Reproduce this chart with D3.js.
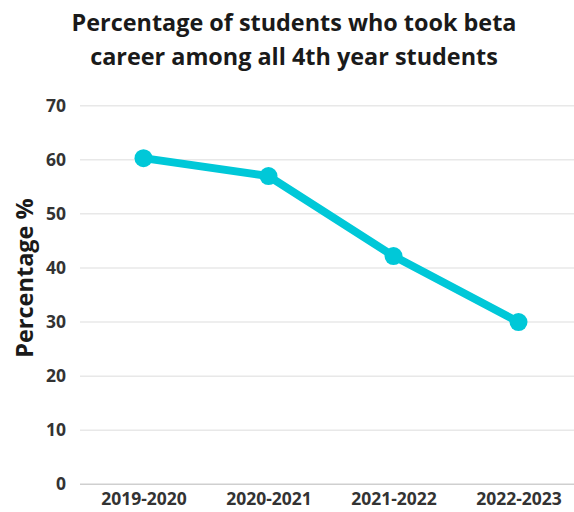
<!DOCTYPE html>
<html>
<head>
<meta charset="utf-8">
<script src="https://cdn.jsdelivr.net/npm/d3@7"></script>
<style>
  html, body { margin: 0; padding: 0; background: #fff; }
  svg { display: block; font-family: "Open Sans", sans-serif; }
</style>
</head>
<body>
<svg id="chart" width="574" height="512"></svg>
<script>
// Share of 4th-year students taking the beta career, by academic year
const years = ["2019-2020", "2020-2021", "2021-2022", "2022-2023"];
const percentages = [60.3, 57.0, 42.2, 30.0];
const yTicks = [0, 10, 20, 30, 40, 50, 60, 70];
const titleLines = ["Percentage of students who took beta", "career among all 4th year students"];
const yTitle = "Percentage %";

const svg = d3.select("#chart");
const plot = { left: 81, right: 581, top: 105.7, bottom: 484.3 };

const x = d3.scalePoint().domain(years).range([plot.left, plot.right]).padding(0.5);
const y = d3.scaleLinear().domain([0, 70]).range([plot.bottom, plot.top]);

// Title
svg.append("g")
  .selectAll("text")
  .data(titleLines)
  .join("text")
  .attr("x", 294)
  .attr("y", (d, i) => 31 + i * 34)
  .attr("text-anchor", "middle")
  .attr("font-size", 23.4)
  .attr("font-weight", 700)
  .attr("fill", "#1a1a1a")
  .text(d => d);

// Horizontal grid
svg.append("g")
  .selectAll("line")
  .data(yTicks)
  .join("line")
  .attr("x1", plot.left - 1)
  .attr("x2", plot.right)
  .attr("y1", d => y(d))
  .attr("y2", d => y(d))
  .attr("stroke", d => d === 0 ? "#cfcfcf" : "#e8e8e8")
  .attr("stroke-width", 1.5);

// Y axis labels
const yAxis = svg.append("g")
  .attr("transform", `translate(${plot.left - 15},0)`)
  .call(d3.axisLeft(y).tickValues(yTicks).tickSize(0).tickPadding(0));
yAxis.select(".domain").remove();
yAxis.selectAll("text")
  .attr("font-family", "Open Sans, sans-serif")
  .attr("font-size", 17.5)
  .attr("font-weight", 700)
  .attr("fill", "#333");

// X axis labels
const xAxis = svg.append("g")
  .attr("transform", `translate(0,${plot.bottom + 8})`)
  .call(d3.axisBottom(x).tickSize(0).tickPadding(0));
xAxis.select(".domain").remove();
xAxis.selectAll("text")
  .attr("font-family", "Open Sans, sans-serif")
  .attr("font-size", 17.5)
  .attr("font-weight", 700)
  .attr("fill", "#333");

// Y axis title
svg.append("text")
  .attr("transform", `translate(33,278) rotate(-90)`)
  .attr("text-anchor", "middle")
  .attr("font-size", 23.5)
  .attr("font-weight", 700)
  .attr("fill", "#1a1a1a")
  .text(yTitle);

// Line and markers
const pts = years.map((d, i) => ({ year: d, value: percentages[i] }));
svg.append("path")
  .datum(pts)
  .attr("fill", "none")
  .attr("stroke", "#00c8d8")
  .attr("stroke-width", 8)
  .attr("stroke-linejoin", "round")
  .attr("d", d3.line().x(d => x(d.year)).y(d => y(d.value)));

svg.append("g")
  .selectAll("circle")
  .data(pts)
  .join("circle")
  .attr("cx", d => x(d.year))
  .attr("cy", d => y(d.value))
  .attr("r", 9)
  .attr("fill", "#00c8d8");
</script>
</body>
</html>
